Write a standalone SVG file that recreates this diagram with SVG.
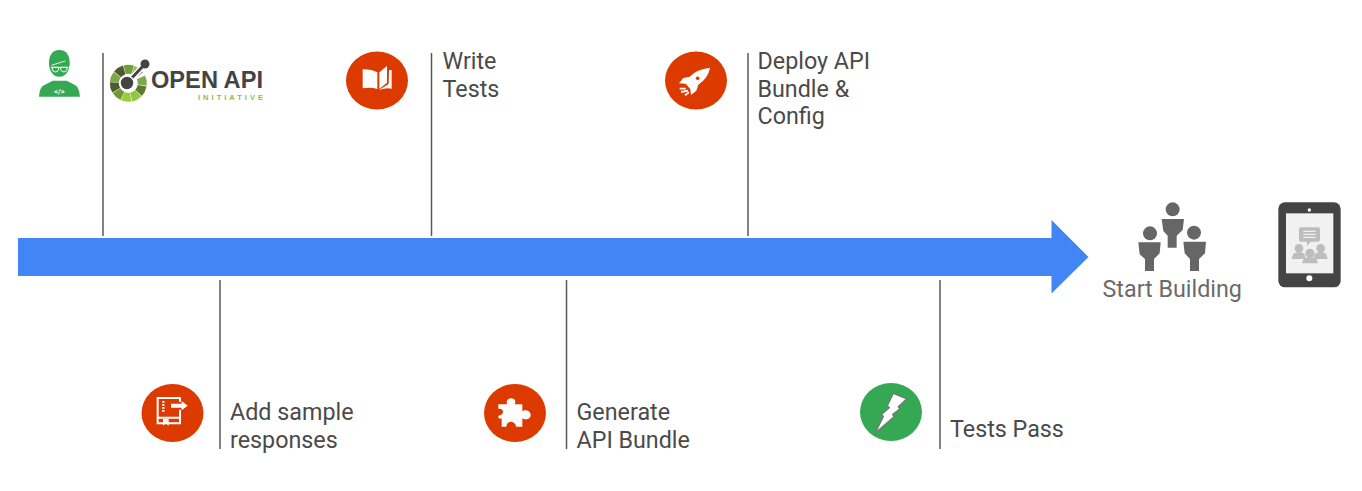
<svg xmlns="http://www.w3.org/2000/svg" width="1362" height="491" viewBox="0 0 1362 491">
<style>
.t{font-family:Roboto,"Liberation Sans",sans-serif;font-size:23.300px;fill:#4a4a4a}
.c{stroke:#595959;stroke-width:1.5;fill:none}
.r{fill:#dd3a00}
.w{fill:#fff}
.g{fill:#666}
.l{fill:#bdbdbd}
</style>
<defs>
<circle id="seg" cx="0" cy="0" r="14" fill="none" stroke-width="9" pathLength="100" stroke-dasharray="9.2 90.8"/>
</defs>
<rect width="1362" height="491" fill="#fff"/>
<g id="connectors">
<path id="timeline" d="M18 238H1051.500V220L1088.500 257L1051.500 293.500V276H18Z" fill="#4285f4"/>
<path class="c" d="M103 53V236M431.500 53V236M748 53V236M220 280V449M566.500 280V449M940 280V449"/>
</g>
<g id="developer" transform="translate(20 40) scale(.33333)">
<path d="M118 30C140 30 150 48 149 72C148 92 138 110 118 110C98 110 88 92 87 72C86 48 96 30 118 30Z" fill="#34a853"/>
<path d="M57 170Q58 143 72 136L98 122H140L166 136Q178 143 180 170Z" fill="#34a853"/>
<path d="M94 76L136 63" stroke="#fff" stroke-width="2.500" fill="none"/>
<path d="M92 82H146" stroke="#fff" stroke-width="2.500" fill="none"/>
<path d="M97 82H116V88Q114 96 106 96Q98 95 97 88ZM122 82H141V88Q140 95 132 96Q124 96 122 88Z" fill="none" stroke="#fff" stroke-width="3"/>
<text x="118" y="163" text-anchor="middle" font-family="Roboto,sans-serif" font-size="22" font-weight="700" fill="#fff">&lt;/&gt;</text>
</g>
<g id="openapi">
<g transform="translate(128.300 83.300)">
<use href="#seg" stroke="#6ea03a" transform="rotate(-105)"/>
<use href="#seg" stroke="#4e5b2c" transform="rotate(-140)"/>
<use href="#seg" stroke="#7fa84a" transform="rotate(-175)"/>
<use href="#seg" stroke="#4e5b2c" transform="rotate(150)"/>
<use href="#seg" stroke="#6f9a35" transform="rotate(115)"/>
<use href="#seg" stroke="#9ccc3c" transform="rotate(80)"/>
<use href="#seg" stroke="#8dc63f" transform="rotate(45)"/>
<use href="#seg" stroke="#5d7a30" transform="rotate(10)"/>
<use href="#seg" stroke="#7fa84a" transform="rotate(-25)"/>
<use href="#seg" stroke="#8fb45a" transform="rotate(-70)"/>
</g>
<path d="M127 83L145 64" stroke="#fff" stroke-width="6"/>
<path d="M127 83L145 64" stroke="#444" stroke-width="3"/>
<circle cx="127" cy="83" r="7" fill="#444" stroke="#fff" stroke-width="1.500"/>
<circle cx="145" cy="64" r="4.500" fill="#444"/>
<text x="151" y="87.500" font-family="'Liberation Sans',Arial,sans-serif" font-size="24" font-weight="700" fill="#444" textLength="112" lengthAdjust="spacingAndGlyphs">OPEN API</text>
<text x="198" y="100" font-family="'Liberation Sans',Arial,sans-serif" font-size="7.500" font-weight="700" fill="#8dbb4f" textLength="65">INITIATIVE</text>
</g>
<g id="write-tests">
<ellipse class="r" cx="377" cy="80.500" rx="31" ry="29"/>
<g transform="translate(340 40) scale(.33333)">
<path class="w" d="M68 88Q92 86 112 97V147Q92 140 68 145Z"/>
<path class="w" d="M118 97L141 78V128L118 147Z"/>
<path class="w" d="M147 90H155V146Q136 142 116 151L146 132Z"/>
</g>
<text class="t" x="442.500" y="69">Write</text>
<text class="t" x="442.500" y="97">Tests</text>
</g>
<g id="deploy">
<ellipse class="r" cx="696" cy="80.500" rx="31" ry="29"/>
<g transform="translate(655 40) scale(.33333)">
<path class="w" d="M165 83Q124 88 104 110L85 114L72 130L92 131L106 147L108 165L124 152L130 134Q160 114 165 83Z"/>
<circle class="r" cx="128" cy="115" r="5.500"/>
<path d="M74 146L92 146M78 156L99 152M90 166L102 157" stroke="#fff" stroke-width="5.500" fill="none"/>
</g>
<text class="t" x="757.500" y="69">Deploy API</text>
<text class="t" x="757.500" y="97">Bundle &amp;</text>
<text class="t" x="757.500" y="124">Config</text>
</g>
<g id="sample-responses">
<ellipse class="r" cx="172.500" cy="413" rx="31" ry="29"/>
<g transform="translate(135 375) scale(.33333)">
<path d="M135 80V69H68V145H135V104M68 128H135" stroke="#fff" stroke-width="6" fill="none"/>
<path class="w" d="M108 86H140V78L158 92L140 106V98H108Z"/>
<path d="M85 78V110" stroke="#fff" stroke-width="7" stroke-dasharray="5 4" fill="none"/>
<path class="w" d="M84 132H101V152L92.500 145L84 152Z"/>
</g>
<text class="t" x="230" y="420">Add sample</text>
<text class="t" x="230" y="448">responses</text>
</g>
<g id="generate-bundle">
<ellipse class="r" cx="515" cy="413" rx="31" ry="29"/>
<g transform="translate(475 375) scale(.33333)">
<path class="w" d="M70 88H97C92 78 97 70 108 70C119 70 124 78 119 88H142V108C152 103 167 108 167 120C167 132 152 137 142 130V155H123C123 147 116 140 108 140C100 140 94 147 94 155H80V130C72 133 70 130 70 122C74 122 84 118 84 110C84 102 74 100 70 102Z"/>
</g>
<text class="t" x="576.500" y="420">Generate</text>
<text class="t" x="576.500" y="448">API Bundle</text>
</g>
<g id="tests-pass">
<ellipse cx="891" cy="412" rx="31" ry="29" fill="#34a853"/>
<g transform="translate(850 375) scale(.33333)">
<path class="w" stroke="#777" stroke-width="4" d="M130 55L170 72L145 95L149 102L128 118L132 125L75 175L100 125L95 118L118 98L112 92Z"/>
</g>
<text class="t" x="950" y="437">Tests Pass</text>
</g>
<g id="start-building">
<g transform="translate(1130 195) scale(.33333)">
<circle class="g" cx="128" cy="43" r="21"/>
<path class="g" d="M95 72H162L158 105L140 122V158H113V122L100 108Z"/>
<circle class="g" cx="60" cy="115" r="21"/>
<path class="g" d="M25 142H92L89 175L72 192V228H45V192L29 178Z"/>
<circle class="g" cx="192" cy="113" r="21"/>
<path class="g" d="M160 140H228L225 175L207 192V228H180V192L164 175Z"/>
</g>
<text class="t" x="1102.500" y="297" style="fill:#6a6a6a">Start Building</text>
</g>
<g id="tablet" transform="translate(1130 195) scale(.33333)">
<rect x="445" y="22" width="187" height="255" rx="20" fill="#444"/>
<rect x="468" y="55" width="142" height="180" fill="#f1f1f1"/>
<circle class="w" cx="538" cy="45" r="5"/>
<circle class="w" cx="538" cy="250" r="9"/>
<path class="l" d="M513 97H564Q570 97 570 103V134Q570 140 564 140H542L531 153V140H513Q507 140 507 134V103Q507 97 513 97Z"/>
<path d="M520 109H557M520 118H557M520 127H557" stroke="#f1f1f1" stroke-width="4" fill="none"/>
<circle class="l" cx="507" cy="160" r="13"/>
<circle class="l" cx="572" cy="160" r="13"/>
<path class="l" d="M485 192L490 176Q507 168 523 176L528 192ZM550 192L555 176Q572 168 588 176L593 192Z"/>
<circle class="l" cx="540" cy="175" r="14"/>
<path class="l" d="M516 205L521 191Q540 182 559 191L564 205Z"/>
</g>
</svg>
